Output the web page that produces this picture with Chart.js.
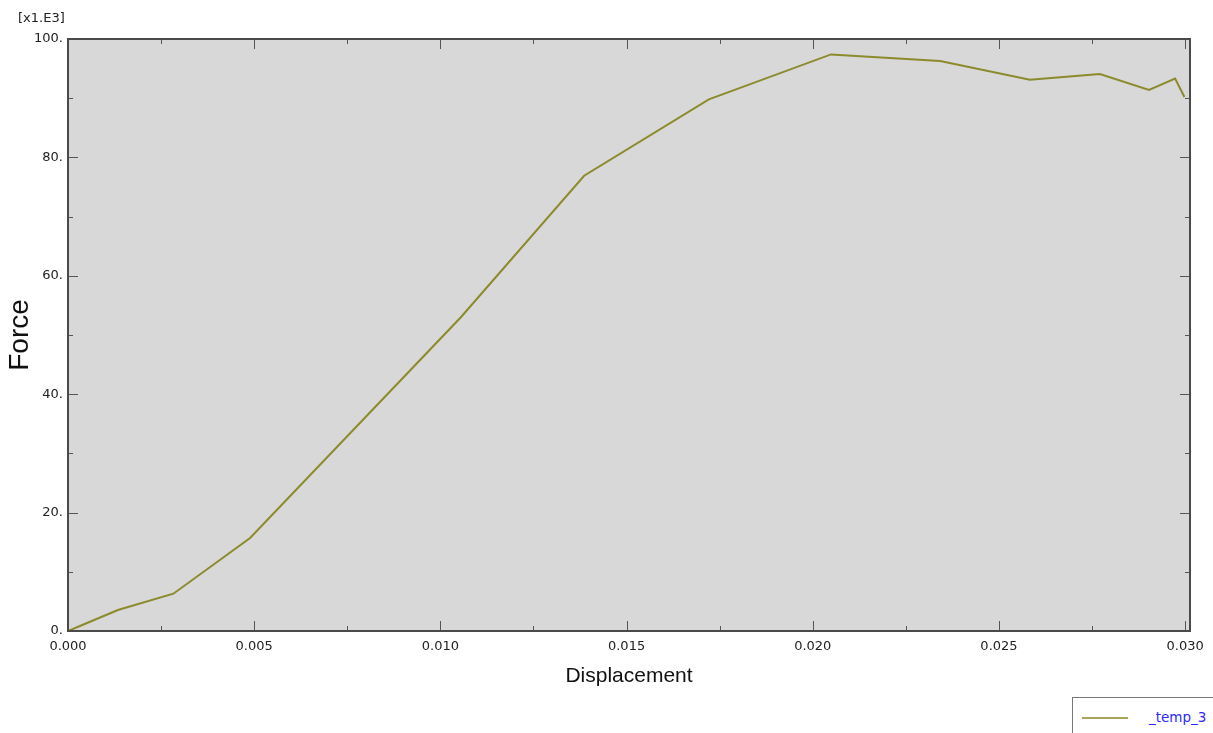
<!DOCTYPE html>
<html>
<head>
<meta charset="utf-8">
<script src="https://cdn.jsdelivr.net/npm/chart.js@4/dist/chart.umd.min.js"></script>
<style>
    body { margin: 0; background: #fff; }
    #wrap { position: relative; width: 1213px; height: 733px; overflow: hidden; }
    #legendBox {
        position: absolute; left: 1072px; top: 697px; width: 160px; height: 60px;
        border: 1px solid #777; background: #fff;
    }
    #legendBox .swatch { position: absolute; left: 9px; top: 19px; width: 46px; height: 2px; background: #a8a45a; }
    #legendBox .label { position: absolute; left: 76px; top: 11px; font: 13.5px 'DejaVu Sans', sans-serif; color: #2b2bff; }
</style>
</head>
<body>
<div id="wrap">
    <canvas id="forceChart" width="1213" height="733"></canvas>
    <div id="legendBox"><span class="swatch"></span><span class="label">_temp_3</span></div>
</div>
<script>
// valores (fuerza en x1.E3)
const seriesName = '_temp_3';
const displacement = [0, 0.00032, 0.00134, 0.00283, 0.00489, 0.01055, 0.01386, 0.01721,
                      0.02049, 0.02342, 0.02583, 0.02771, 0.02903, 0.02973, 0.02998];
const force = [0, 0.85, 3.55, 6.3, 15.7, 53.0, 76.9, 89.8,
               97.4, 96.3, 93.1, 94.1, 91.4, 93.3, 90.2];
const xMajorStep = 0.005;
const yMajorStep = 20;

const points = displacement.map((d, i) => ({ x: d, y: force[i] }));

function isMajor(v, step) {
    const r = v / step;
    return Math.abs(r - Math.round(r)) < 1e-6;
}

// fondo gris del area y marcas hacia dentro
const plotFrame = {
    id: 'plotFrame',
    beforeDatasetsDraw(chart) {
        const { ctx, chartArea: a } = chart;
        ctx.save();
        ctx.fillStyle = '#d8d8d8';
        ctx.fillRect(a.left, a.top, a.right - a.left, a.bottom - a.top);
        ctx.restore();
    },
    afterDatasetsDraw(chart) {
        const { ctx, chartArea: a, scales } = chart;
        ctx.save();
        ctx.strokeStyle = '#555';
        ctx.lineWidth = 1;
        scales.x.ticks.forEach(t => {
            const px = Math.round(scales.x.getPixelForValue(t.value)) + 0.5;
            const len = isMajor(t.value, xMajorStep) ? 10 : 5;
            ctx.beginPath();
            ctx.moveTo(px, a.bottom); ctx.lineTo(px, a.bottom - len);
            ctx.moveTo(px, a.top); ctx.lineTo(px, a.top + len);
            ctx.stroke();
        });
        scales.y.ticks.forEach(t => {
            const py = Math.round(scales.y.getPixelForValue(t.value)) + 0.5;
            const len = isMajor(t.value, yMajorStep) ? 10 : 5;
            ctx.beginPath();
            ctx.moveTo(a.left, py); ctx.lineTo(a.left + len, py);
            ctx.moveTo(a.right, py); ctx.lineTo(a.right - len, py);
            ctx.stroke();
        });
        ctx.strokeStyle = '#4a4a4a';
        ctx.lineWidth = 2;
        ctx.strokeRect(a.left, a.top, a.right - a.left, a.bottom - a.top);
        // factor de escala arriba del eje Y
        ctx.fillStyle = '#222';
        ctx.font = "13px 'DejaVu Sans'";
        ctx.textAlign = 'left';
        ctx.textBaseline = 'middle';
        ctx.fillText('[x1.E3]', 18, 19);
        ctx.restore();
    }
};

new Chart(document.getElementById('forceChart'), {
    type: 'line',
    data: {
        datasets: [{
            label: seriesName,
            data: points,
            borderColor: '#8c8a2c',
            borderWidth: 2,
            pointRadius: 0,
            tension: 0,
            fill: false
        }]
    },
    options: {
        responsive: false,
        animation: false,
        devicePixelRatio: 1,
        layout: { padding: { top: 39, right: 23, bottom: 40, left: 0 } },
        plugins: {
            legend: { display: false },
            tooltip: { enabled: false }
        },
        scales: {
            x: {
                type: 'linear',
                min: 0,
                max: 0.03013,
                afterFit(scale) { scale.height = 62; },
                grid: { display: false, drawTicks: false, tickLength: 0 },
                border: { display: false },
                ticks: {
                    stepSize: 0.0025,
                    includeBounds: false,
                    autoSkip: false,
                    maxRotation: 0,
                    padding: 8,
                    color: '#222',
                    font: { family: 'DejaVu Sans', size: 13 },
                    callback: v => isMajor(v, xMajorStep) ? v.toFixed(3) : ''
                },
                title: {
                    display: true,
                    text: 'Displacement',
                    color: '#111',
                    font: { family: 'Liberation Sans', size: 21 },
                    padding: { top: 0, bottom: 4 }
                }
            },
            y: {
                min: 0,
                max: 100,
                afterFit(scale) { scale.width = 68; },
                grid: { display: false, drawTicks: false, tickLength: 0 },
                border: { display: false },
                ticks: {
                    stepSize: 10,
                    includeBounds: false,
                    autoSkip: false,
                    padding: 5,
                    color: '#222',
                    font: { family: 'DejaVu Sans', size: 13 },
                    callback: v => isMajor(v, yMajorStep) ? v + '.' : ''
                },
                title: {
                    display: true,
                    text: 'Force',
                    color: '#111',
                    font: { family: 'Liberation Sans', size: 28 },
                    padding: { top: 3, bottom: 0 }
                }
            }
        }
    },
    plugins: [plotFrame]
});
</script>
</body>
</html>
